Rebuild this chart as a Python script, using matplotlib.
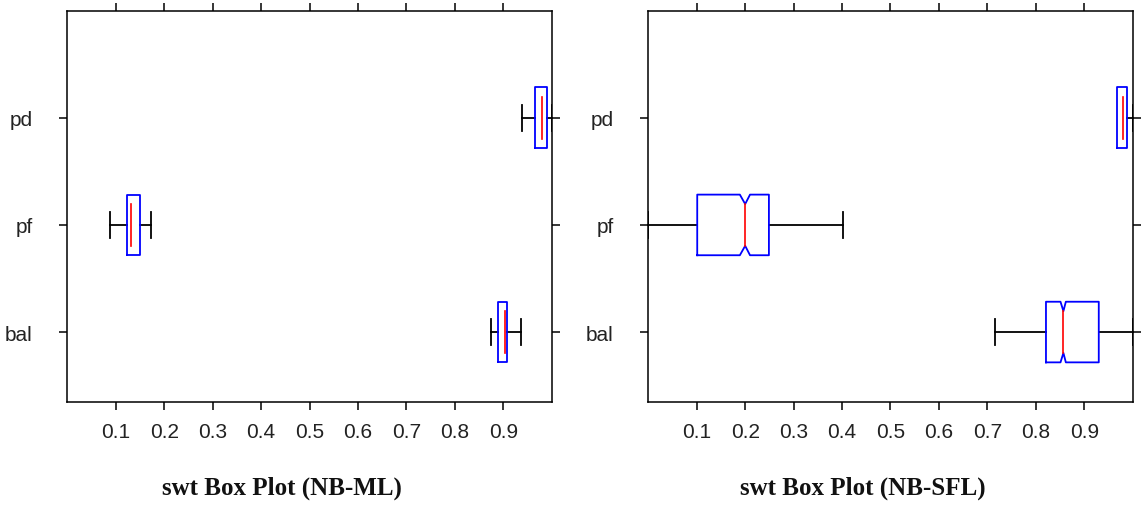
import numpy as np
import matplotlib
matplotlib.use("Agg")
import matplotlib.pyplot as plt

# ---- data ----
groups = ["bal", "pf", "pd"]
xticks = [0.1, 0.2, 0.3, 0.4, 0.5, 0.6, 0.7, 0.8, 0.9]

# NB-ML panel: whisker low, q1, median, q3, whisker high
ml_whislo = [0.875, 0.088, 0.939]
ml_q1 = [0.890, 0.123, 0.966]
ml_med = [0.903, 0.132, 0.979]
ml_q3 = [0.908, 0.150, 0.990]
ml_whishi = [0.936, 0.172, 1.000]
ml_cilo = [np.nan, np.nan, np.nan]
ml_cihi = [np.nan, np.nan, np.nan]

# NB-SFL panel
sfl_whislo = [0.715, 0.000, 0.968]
sfl_q1 = [0.821, 0.101, 0.968]
sfl_med = [0.857, 0.200, 0.980]
sfl_q3 = [0.930, 0.249, 0.989]
sfl_whishi = [1.000, 0.401, 1.000]
sfl_cilo = [0.851, 0.189, np.nan]
sfl_cihi = [0.862, 0.210, np.nan]

titles = ["swt Box Plot (NB-ML)", "swt Box Plot (NB-SFL)"]

HALF = 0.283   # half box height (y units)
MHALF = 0.195  # half median / notch height
CAP = 0.12     # half whisker cap height


def draw_boxes(ax, wlo, q1, med, q3, whi, cilo, cihi):
    for i in range(len(groups)):
        y = i + 1
        # whiskers
        ax.plot([wlo[i], q1[i]], [y, y], color="k", lw=1.3, clip_on=False)
        ax.plot([q3[i], whi[i]], [y, y], color="k", lw=1.3, clip_on=False)
        if wlo[i] < q1[i]:
            ax.plot([wlo[i], wlo[i]], [y - CAP, y + CAP], color="k", lw=1.3)
        if whi[i] > q3[i]:
            ax.plot([whi[i], whi[i]], [y - CAP, y + CAP], color="k", lw=1.3)
        # box, notched where a notch interval is known
        if np.isnan(cilo[i]):
            xs = [q1[i], q3[i], q3[i], q1[i], q1[i]]
            ys = [y - HALF, y - HALF, y + HALF, y + HALF, y - HALF]
        else:
            xs = [q1[i], cilo[i], med[i], cihi[i], q3[i], q3[i],
                  cihi[i], med[i], cilo[i], q1[i], q1[i]]
            ys = [y - HALF, y - HALF, y - MHALF, y - HALF, y - HALF, y + HALF,
                  y + HALF, y + MHALF, y + HALF, y + HALF, y - HALF]
        ax.plot(xs, ys, color="#0000ff", lw=1.3, zorder=3)
        ax.plot([med[i], med[i]], [y - MHALF, y + MHALF], color="#ff0000",
                lw=1.2, zorder=4)


fig = plt.figure(figsize=(11.44, 5.06), dpi=100)
ax1 = fig.add_axes([0.0588, 0.2042, 0.4235, 0.7727])
ax2 = fig.add_axes([0.5667, 0.2042, 0.4234, 0.7727])

draw_boxes(ax1, ml_whislo, ml_q1, ml_med, ml_q3, ml_whishi, ml_cilo, ml_cihi)
draw_boxes(ax2, sfl_whislo, sfl_q1, sfl_med, sfl_q3, sfl_whishi, sfl_cilo, sfl_cihi)

for ax, title in zip([ax1, ax2], titles):
    ax.set_xlim(0, 1.0)
    ax.set_ylim(0.35, 4.0)
    ax.set_xticks(xticks)
    ax.set_xticklabels([f"{t:.1f}" for t in xticks])
    ax.set_yticks([1, 2, 3])
    ax.set_yticklabels(groups)
    ax.tick_params(direction="out", length=5.8, width=1.1, top=True, right=True,
                   labelsize=15, labelcolor="#222222")
    ax.tick_params(axis="x", pad=9)
    ax.tick_params(axis="y", pad=19)
    for lab in ax.get_xticklabels() + ax.get_yticklabels():
        lab.set_family("Liberation Sans")
    for s in ax.spines.values():
        s.set_linewidth(1.1)
    ax.set_xlabel(title, fontsize=18, fontweight="bold", family="Liberation Serif",
                  va="center", color="#111111")
    ax.xaxis.set_label_coords(0.443, -0.218)

fig.savefig("out.png", dpi=100)
